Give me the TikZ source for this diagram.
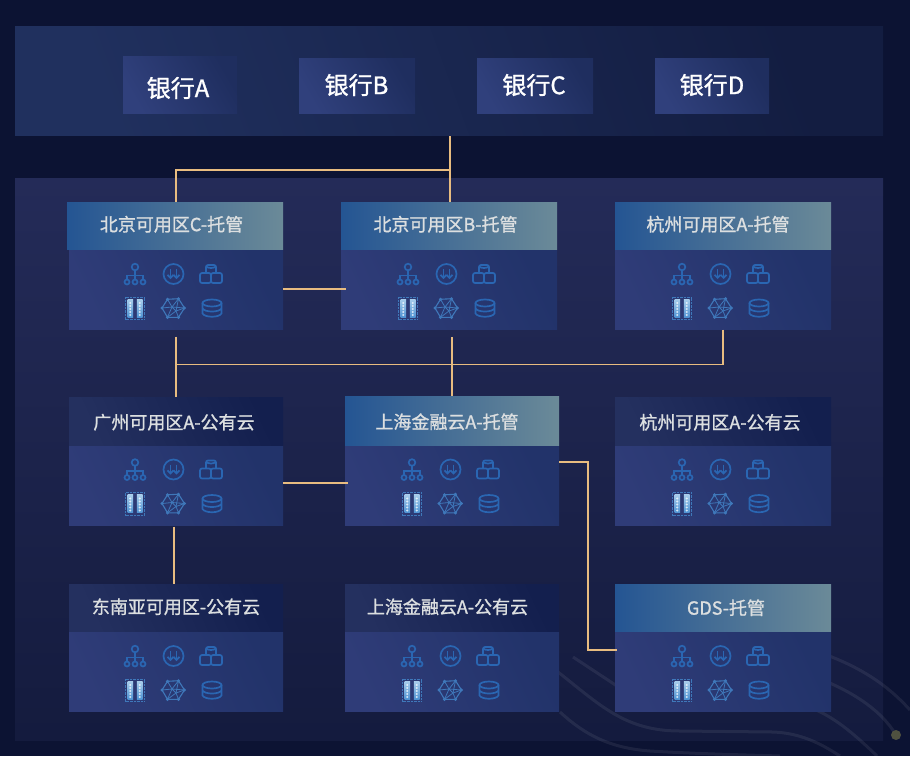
\documentclass[tikz,border=0pt]{standalone}
\usepackage{fontspec}
\setmainfont{Noto Sans CJK SC}[FakeBold=1.1]
\usetikzlibrary{arrows.meta,positioning,calc}
\definecolor{pagebg}{HTML}{0C1333}
\definecolor{wire}{HTML}{E8BC80}
\definecolor{iconblue}{HTML}{2A66B2}
\definecolor{meshblue}{HTML}{3F78BA}
\definecolor{barlight}{HTML}{A8CDEB}
\definecolor{bardark}{HTML}{4F93D3}
\definecolor{bankl}{HTML}{30407C}
\definecolor{bankr}{HTML}{1F2E5F}
\definecolor{bodyl}{HTML}{2F3C78}
\definecolor{bodyr}{HTML}{22336A}
\definecolor{brightl}{HTML}{245593}
\definecolor{brightr}{HTML}{6B8A98}
\definecolor{darkl}{HTML}{24305F}
\definecolor{darkr}{HTML}{131F4E}
\definecolor{headtext}{HTML}{DCDFE0}
\definecolor{panelal}{HTML}{20305E}
\definecolor{panelar}{HTML}{131D41}
\definecolor{panelbt}{HTML}{242B58}
\definecolor{panelbb}{HTML}{141B3E}
\definecolor{dotcol}{HTML}{4F5140}
\tikzset{
  bankbox/.style={minimum width=114pt,minimum height=55.5pt,inner sep=0pt,text=white,font=\fontsize{24}{26}\selectfont,
    left color=bankl,right color=bankr,shading angle=120},
  bodybox/.style={minimum width=214pt,minimum height=79.5pt,inner sep=0pt,anchor=north west,
    left color=bodyl,right color=bodyr,shading angle=115},
  headbright/.style={minimum width=216pt,minimum height=47.5pt,inner sep=0pt,anchor=north west,text=headtext,
    font=\fontsize{18}{20}\selectfont,left color=brightl,right color=brightr},
  headdark/.style={minimum width=214pt,minimum height=48.5pt,inner sep=0pt,anchor=north west,text=headtext,
    font=\fontsize{18}{20}\selectfont,left color=darkl,right color=darkr,shading angle=115},
  link/.style={draw=wire,line width=1.6pt},
  arcline/.style={draw=white,opacity=0.07,line width=3pt},
  iconline/.style={draw=iconblue,line width=1.7pt}
}
% label moved inside its box: twice the x offset, then the y offset
\newcommand{\nudge}[3]{\hspace*{#1}\raisebox{#2}[\height][\depth]{#3}}
% six icons of one card, (#1,#2) is the top left of the body
\newcommand{\cardicons}[2]{
\begin{scope}[shift={(#1,#2)}]
  % tree
  \begin{scope}[shift={(67,24)},iconline]
    \draw (0,-7) circle (3.3);
    \draw (0,-3.7) -- (0,5.5);
    \draw (-8,5.5) -- (-8,1.5) -- (8,1.5) -- (8,5.5);
    \foreach \k in {-8,0,8} \draw (\k,8) circle (2.5);
  \end{scope}
  % arrows in a ring
  \begin{scope}[shift={(105.5,24)},iconline]
    \draw (0,0) circle (10);
    \draw[-{Straight Barb[length=3pt,width=6pt]}] (-3,-5) -- (-3,5);
    \draw[-{Straight Barb[length=3pt,width=6pt]}] (3,-5) -- (3,5);
  \end{scope}
  % three boxes
  \begin{scope}[shift={(143,24)},iconline]
    \draw[rounded corners=2pt] (-5,-1) -- (-5,-9) -- (5,-9) -- (5,-1);
    \draw (-5,-7.5) .. controls (-2,-5.5) and (2,-5.5) .. (5,-7.5);
    \draw[rounded corners=2pt] (-11,-1) rectangle (0,9);
    \draw[rounded corners=2pt] (0,-1) rectangle (11,9);
  \end{scope}
  % server
  \begin{scope}[shift={(67,58)}]
    \draw[draw=meshblue,line width=0.4pt,densely dotted] (-9.5,-11) rectangle (9.5,11.5);
    \foreach \k in {-4.7,4.7} {
      \shade[top color=barlight,bottom color=bardark] (\k-2.8,-9) rectangle (\k+2.8,9);
      \foreach \j in {-5,-2,1,4,7} \fill[white,opacity=0.75] (\k,\j) circle (1.1);
    }
  \end{scope}
  % mesh
  \begin{scope}[shift={(105,58)},draw=meshblue,line width=0.8pt]
    \coordinate (m1) at (-11,0);
    \coordinate (m2) at (-5.5,-8.7);
    \coordinate (m3) at (5.5,-9.3);
    \coordinate (m4) at (11.5,0);
    \coordinate (m5) at (5.5,9.3);
    \coordinate (m6) at (-5.5,9.3);
    \coordinate (m7) at (-1,-1);
    \coordinate (m8) at (3,3);
    \draw[line width=1.1pt] (m1) -- (m2) -- (m3) -- (m4) -- (m5) -- (m6) -- cycle;
    \foreach \k in {1,2,3,4,6} \draw (m7) -- (m\k);
    \foreach \k in {3,4,5,6} \draw (m8) -- (m\k);
    \draw (m7) -- (m8);
    \foreach \k in {1,...,6} \fill[meshblue] (m\k) circle (1.7);
  \end{scope}
  % database
  \begin{scope}[shift={(144,58)},iconline]
    \draw (0,-5) ellipse (9.5 and 3.5);
    \draw (-9.5,-5) -- (-9.5,5.5) .. controls (-7,9.8) and (7,9.8) .. (9.5,5.5) -- (9.5,-5);
    \draw (-9.5,0.5) .. controls (-7,4.5) and (7,4.5) .. (9.5,0.5);
  \end{scope}
\end{scope}
}
\begin{document}
\begin{tikzpicture}[x=1pt,y=-1pt,every node/.style={outer sep=0pt}]
\useasboundingbox (0,0) rectangle (910,756);
\fill[pagebg] (0,0) rectangle (910,756);

% panels
\node[minimum width=868pt,minimum height=109.5pt,inner sep=0pt,anchor=north west,left color=panelal,right color=panelar,shading angle=110] (banks) at (15,26) {};
\node[minimum width=868pt,minimum height=562pt,inner sep=0pt,anchor=north west,top color=panelbt,bottom color=panelbb] (zone) at (15,178) {};

% faint curves
\draw[arcline] (560,712) .. controls (585,735) and (610,748) .. (650,751) .. controls (700,754) and (750,755) .. (780,756);
\draw[arcline] (558,672) .. controls (600,705) and (625,731) .. (680,731) -- (773,732) .. controls (800,733) and (820,743) .. (840,756);
\draw[arcline] (573,657) -- (620,688);
\draw[arcline] (780,640) .. controls (820,652) and (870,665) .. (910,710);
\draw[arcline] (780,665) .. controls (830,680) and (875,700) .. (896,735);
\draw[arcline] (790,702) .. controls (825,708) and (850,730) .. (877,756);
\fill[dotcol] (896,735) circle (5);

% banks
\node[bankbox,minimum height=57.5pt] (bankA) at (180,85) {\nudge{-4pt}{-3pt}{银行A}};
\node[bankbox,minimum width=116pt] (bankB) at (357,86) {\nudge{-1pt}{1pt}{银行B}};
\node[bankbox,minimum width=116pt] (bankC) at (535,86) {\nudge{-2pt}{1pt}{银行C}};
\node[bankbox] (bankD) at (712,86) {\nudge{0pt}{1pt}{银行D}};

% first row
\node[bodybox] (bjCbody) at (69,250) {};
\node[headbright] (bjC) at (67,202) {\nudge{-7pt}{1.5pt}{北京可用区C-托管}};
\node[bodybox,minimum width=216pt] (bjBbody) at (341,250) {};
\node[headbright] (bjB) at (341,202) {\nudge{-7pt}{1.5pt}{北京可用区B-托管}};
\node[bodybox,minimum width=216pt] (hzAbody) at (615,250) {};
\node[headbright] (hzA) at (615,202) {\nudge{-10pt}{1.5pt}{杭州可用区A-托管}};
% second row
\node[bodybox] (gzAbody) at (69,446) {};
\node[headdark] (gzA) at (69,397) {\nudge{-4pt}{-1pt}{广州可用区A-公有云}};
\node[bodybox] (shAbody) at (345,446) {};
\node[headbright,minimum width=214pt,minimum height=49.5pt] (shA) at (345,396) {\nudge{-10pt}{-1pt}{上海金融云A-托管}};
\node[bodybox,minimum width=216pt] (hzPbody) at (615,446) {};
\node[headdark,minimum width=216pt] (hzP) at (615,397) {\nudge{-6pt}{-1pt}{杭州可用区A-公有云}};
% third row
\node[bodybox] (seabody) at (69,632) {};
\node[headdark,minimum height=47.5pt] (sea) at (69,584) {\nudge{0pt}{1pt}{东南亚可用区-公有云}};
\node[bodybox] (shPbody) at (345,632) {};
\node[headdark,minimum height=47.5pt] (shP) at (345,584) {\nudge{-9pt}{1pt}{上海金融云A-公有云}};
\node[bodybox,minimum width=216pt] (gdsbody) at (615,632) {};
\node[headbright] (gds) at (615,584) {\nudge{6pt}{0pt}{GDS-托管}};

\cardicons{68}{250}
\cardicons{341}{250}
\cardicons{615}{250}
\cardicons{68}{445.5}
\cardicons{345}{445.5}
\cardicons{615}{445.5}
\cardicons{68}{632}
\cardicons{345}{632}
\cardicons{615}{632}

% links
\coordinate (banktap) at (450,136);
\coordinate (banktee) at (450,170);
\coordinate (busleft) at (176,364.5);
\draw[link] (banktap) -- (bjB.north -| banktap);
\draw[link] (banktee) -| (bjC.north -| bjCbody.south);
\draw[link] ($(bjCbody.north east)+(0,39)$) -- ($(bjBbody.north west)+(5,39)$);
\draw[link] (hzAbody.south) |- (busleft);
\draw[link] ($(bjCbody.south)+(0,7)$) -- (gzA.north);
\draw[link] ($(shA.north)+(0,-59)$) -- (shA.north);
\draw[link] ($(gzAbody.north east)+(0,37)$) -- ($(shAbody.north west)+(3,37)$);
\draw[link] ($(shAbody.north east)+(0,16)$) -- ++(29,0) |- ($(gds.north west)+(2,66)$);
\draw[link] ($(gzAbody.south)+(-2,1)$) -- ($(sea.north)+(-2,0)$);
\end{tikzpicture}
\end{document}
